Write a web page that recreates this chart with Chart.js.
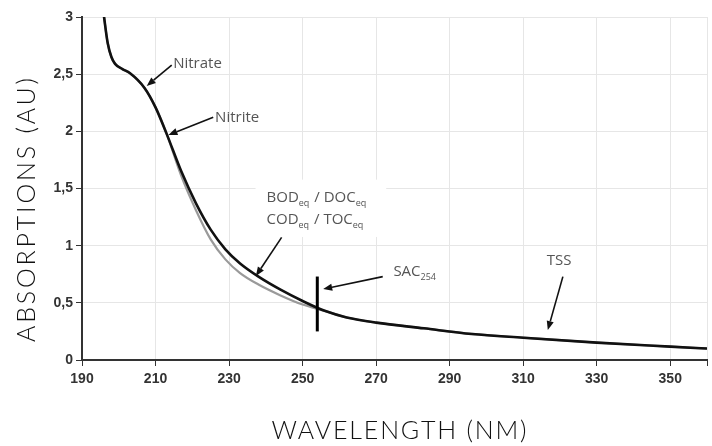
<!DOCTYPE html>
<html>
<head>
<meta charset="utf-8">
<title>Absorption spectrum</title>
<script src="https://cdn.jsdelivr.net/npm/chart.js@4.4.1/dist/chart.umd.min.js"></script>
<style>
  html, body { margin: 0; padding: 0; background: #fff; }
  canvas { display: block; }
</style>
</head>
<body>
<canvas id="myChart" width="712" height="446"></canvas>
<script>
// values
const wavelengths = [195, 196, 197, 198, 199, 201, 203, 207, 210, 213, 217, 221, 225, 229, 233, 238, 244, 250, 256, 262, 270, 283, 296, 310, 330, 350, 360];
const totalAbs    = [3.25, 3.00, 2.77, 2.65, 2.59, 2.545, 2.51, 2.38, 2.21, 1.98, 1.65, 1.37, 1.14, 0.968, 0.844, 0.729, 0.615, 0.516, 0.43, 0.372, 0.327, 0.277, 0.228, 0.195, 0.152, 0.117, 0.10];
const lowerAbs    = [3.25, 3.00, 2.77, 2.65, 2.59, 2.545, 2.51, 2.38, 2.21, 1.98, 1.61, 1.31, 1.055, 0.88, 0.76, 0.66, 0.565, 0.485, 0.43, 0.372, 0.327, 0.277, 0.228, 0.195, 0.152, 0.117, 0.10];

const sacWave = [254, 254];
const sacAbs  = [0.25, 0.73];

const xTickValues = [190, 210, 230, 250, 270, 290, 310, 330, 350, 360];
const yTickValues = [0, 0.5, 1, 1.5, 2, 2.5, 3];

const xTitle = 'WAVELENGTH (NM)';
const yTitle = 'ABSORPTIONS (AU)';

// annotation labels: text parts, label position (left, baseline) and arrow tail -> tip, in data units
const noteParts = [
  [['Nitrate']],
  [['Nitrite']],
  [['BOD'], ['eq', 1], [' / DOC'], ['eq', 1]],
  [['COD'], ['eq', 1], [' / TOC'], ['eq', 1]],
  [['SAC'], ['254', 1]],
  [['TSS']]
];
const noteX = [214.8, 226.2, 240.2, 240.2, 274.7, 316.4];
const noteY = [2.554, 2.082, 1.385, 1.19, 0.735, 0.83];

const arrowFrom = [[214.4, 2.58], [225.7, 2.123], [244.3, 1.073], [271.8, 0.729], [320.8, 0.729]];
const arrowTo   = [[207.6, 2.397], [213.5, 1.968], [237.3, 0.735], [255.6, 0.621], [316.7, 0.262]];

const toPoints = (xs, ys) => xs.map((x, i) => ({ x: x, y: ys[i] }));

function drawParts(ctx, parts, x, y) {
  parts.forEach(p => {
    const sub = p[1];
    ctx.font = sub ? '9px "Open Sans"' : '15px "Open Sans"';
    ctx.fillText(p[0], x, sub ? y + 4 : y);
    x += ctx.measureText(p[0]).width + (sub ? 1 : 0);
  });
  return x;
}

function partsWidth(ctx, parts) {
  let w = 0;
  parts.forEach(p => {
    ctx.font = p[1] ? '9px "Open Sans"' : '15px "Open Sans"';
    w += ctx.measureText(p[0]).width + (p[1] ? 1 : 0);
  });
  return w;
}

const notesPlugin = {
  id: 'notes',
  beforeDatasetsDraw(chart) {
    // white patch behind the BOD / COD label
    const { ctx, scales: { x, y } } = chart;
    const left = x.getPixelForValue(noteX[2]);
    const top = y.getPixelForValue(noteY[2]);
    const bottom = y.getPixelForValue(noteY[3]);
    const w = Math.max(partsWidth(ctx, noteParts[2]), partsWidth(ctx, noteParts[3]));
    ctx.save();
    ctx.fillStyle = '#fff';
    ctx.fillRect(left - 11, top - 22, w + 30, bottom - top + 35);
    ctx.restore();
  },
  afterDatasetsDraw(chart) {
    const { ctx, scales: { x, y } } = chart;
    ctx.save();
    ctx.fillStyle = '#555';
    ctx.textBaseline = 'alphabetic';
    ctx.textAlign = 'left';
    noteParts.forEach((parts, i) => {
      drawParts(ctx, parts, x.getPixelForValue(noteX[i]), y.getPixelForValue(noteY[i]));
    });

    ctx.strokeStyle = '#111';
    ctx.fillStyle = '#111';
    ctx.lineWidth = 1.6;
    arrowFrom.forEach((a, i) => {
      const x0 = x.getPixelForValue(a[0]), y0 = y.getPixelForValue(a[1]);
      const x1 = x.getPixelForValue(arrowTo[i][0]), y1 = y.getPixelForValue(arrowTo[i][1]);
      const ang = Math.atan2(y1 - y0, x1 - x0);
      const len = 9, half = 3.6;
      const bx = x1 - len * Math.cos(ang), by = y1 - len * Math.sin(ang);
      ctx.beginPath();
      ctx.moveTo(x0, y0);
      ctx.lineTo(bx, by);
      ctx.stroke();
      ctx.beginPath();
      ctx.moveTo(x1, y1);
      ctx.lineTo(bx + half * Math.sin(ang), by - half * Math.cos(ang));
      ctx.lineTo(bx - half * Math.sin(ang), by + half * Math.cos(ang));
      ctx.closePath();
      ctx.fill();
    });
    ctx.restore();
  }
};

// spaced-out axis titles
function spacedText(ctx, text, target, cx, cy, rotate) {
  ctx.save();
  ctx.font = '300 25px Lato';
  ctx.fillStyle = '#111';
  ctx.textBaseline = 'middle';
  ctx.textAlign = 'left';
  ctx.letterSpacing = '0px';
  const w = ctx.measureText(text).width;
  const gap = Math.max(0, (target - w) / (text.length - 1));
  ctx.letterSpacing = gap.toFixed(2) + 'px';
  ctx.translate(cx, cy);
  if (rotate) ctx.rotate(-Math.PI / 2);
  ctx.fillText(text, -target / 2, 0);
  ctx.restore();
}

const titlesPlugin = {
  id: 'titles',
  afterDraw(chart) {
    const ctx = chart.ctx;
    spacedText(ctx, xTitle, 255, 399, 431, false);
    spacedText(ctx, yTitle, 264, 27, 210, true);
  }
};

const tickFont = { family: '"Liberation Sans", Arial, sans-serif', size: 14, weight: 'bold' };

new Chart(document.getElementById('myChart').getContext('2d'), {
  type: 'line',
  data: {
    datasets: [
      {
        label: 'SAC254',
        data: toPoints(sacWave, sacAbs),
        borderColor: '#000',
        borderWidth: 3,
        pointRadius: 0,
        tension: 0
      },
      {
        label: 'Total',
        data: toPoints(wavelengths, totalAbs),
        borderColor: '#111',
        borderWidth: 2.6,
        pointRadius: 0,
        cubicInterpolationMode: 'monotone'
      },
      {
        label: 'Base',
        data: toPoints(wavelengths, lowerAbs),
        borderColor: '#9a9a9a',
        borderWidth: 2.2,
        pointRadius: 0,
        cubicInterpolationMode: 'monotone'
      }
    ]
  },
  options: {
    responsive: false,
    animation: false,
    layout: { padding: { left: 32, right: 4, top: 17, bottom: 56 } },
    plugins: {
      legend: { display: false },
      tooltip: { enabled: false }
    },
    scales: {
      x: {
        type: 'linear',
        min: 190,
        max: 360,
        afterBuildTicks: s => { s.ticks = xTickValues.map(v => ({ value: v })); },
        ticks: {
          autoSkip: false,
          maxRotation: 0,
          padding: 5,
          color: '#333',
          font: tickFont,
          callback: v => (v === 360 ? '' : v)
        },
        grid: { color: '#e6e6e6', lineWidth: 1, tickLength: 6, tickColor: '#333' },
        border: { color: '#333', width: 2 },
        afterFit: s => { s.height = 30; }
      },
      y: {
        min: 0,
        max: 3,
        afterBuildTicks: s => { s.ticks = yTickValues.map(v => ({ value: v })); },
        ticks: {
          padding: 3,
          color: '#333',
          font: tickFont,
          callback: v => String(v).replace('.', ',')
        },
        grid: { color: '#e6e6e6', lineWidth: 1, tickLength: 6, tickColor: '#333' },
        border: { color: '#333', width: 2 },
        afterFit: s => { s.width = 50; }
      }
    }
  },
  plugins: [notesPlugin, titlesPlugin]
});
</script>
</body>
</html>
